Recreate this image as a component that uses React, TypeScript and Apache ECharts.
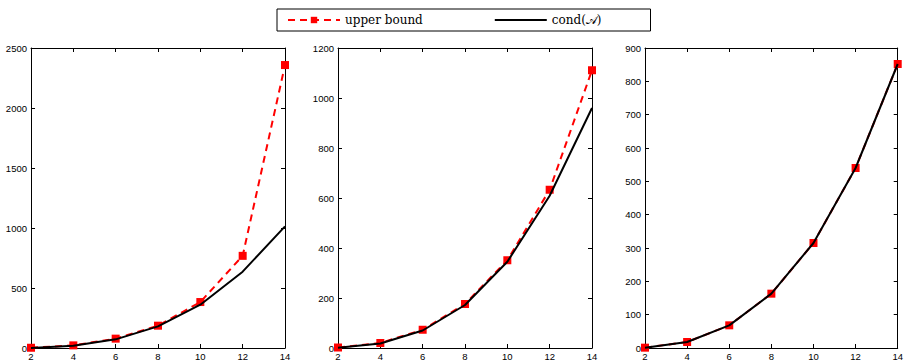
import React, { useEffect, useRef } from "react";
import * as echarts from "echarts";

const nValues = [2, 4, 6, 8, 10, 12, 14];

const upperBound1 = [2, 22, 78, 186, 383, 768, 2358];
const cond1 = [1, 19, 72, 180, 361, 636, 1014];

const upperBound2 = [2, 20, 73, 176, 351, 633, 1111];
const cond2 = [1, 18, 70, 172, 345, 609, 960];

const upperBound3 = [1, 18, 68, 163, 315, 540, 852];
const cond3 = [1, 18, 68, 163, 315, 540, 852];

const yMaxes = [2500, 1200, 900];
const yIntervals = [500, 200, 100];

const upperName = "upper bound";
const condName = "cond(𝒜)";

const panels = [
  { upper: upperBound1, cond: cond1 },
  { upper: upperBound2, cond: cond2 },
  { upper: upperBound3, cond: cond3 },
];

const gridLefts = [31, 338, 645];

export default function App() {
  const ref = useRef<HTMLDivElement>(null);
  useEffect(() => {
    if (!ref.current) return;
    const chart = echarts.init(ref.current, null, { renderer: "svg" });
    const labelFont = { color: "#000", fontSize: 9.5, fontFamily: "Liberation Sans, Arial, sans-serif" };
    const grids: any[] = [];
    const xAxes: any[] = [];
    const yAxes: any[] = [];
    const series: any[] = [];
    panels.forEach((p, i) => {
      grids.push({ left: gridLefts[i], top: 48, width: 254, height: 300 });
      const axisLine = { show: true, onZero: false, lineStyle: { color: "#000", width: 1 } };
      const axisTick = { show: true, inside: true, length: 4, lineStyle: { color: "#000", width: 1 } };
      xAxes.push({
        type: "value", gridIndex: i, min: 2, max: 14, interval: 2, position: "bottom",
        axisLine, axisTick, splitLine: { show: false },
        axisLabel: { ...labelFont, margin: 3, formatter: (v: number) => String(v) },
      });
      xAxes.push({
        type: "value", gridIndex: i, min: 2, max: 14, interval: 2, position: "top",
        axisLine, axisTick, splitLine: { show: false }, axisLabel: { show: false },
      });
      yAxes.push({
        type: "value", gridIndex: i, min: 0, max: yMaxes[i], interval: yIntervals[i], position: "left",
        axisLine, axisTick, splitLine: { show: false },
        axisLabel: { ...labelFont, margin: 4, formatter: (v: number) => String(v) },
      });
      yAxes.push({
        type: "value", gridIndex: i, min: 0, max: yMaxes[i], interval: yIntervals[i], position: "right",
        axisLine, axisTick, splitLine: { show: false }, axisLabel: { show: false },
      });
      series.push({
        name: upperName, type: "line", xAxisIndex: i * 2, yAxisIndex: i * 2,
        data: nValues.map((n, k) => [n, p.upper[k]]),
        symbol: "rect", symbolSize: 8, showSymbol: true,
        itemStyle: { color: "#ff0000" },
        lineStyle: { color: "#ff0000", width: 2, type: [7, 5] },
        z: 2,
      });
      series.push({
        name: condName, type: "line", xAxisIndex: i * 2, yAxisIndex: i * 2,
        data: nValues.map((n, k) => [n, p.cond[k]]),
        symbol: "none", showSymbol: false,
        itemStyle: { color: "#000" },
        lineStyle: { color: "#000", width: 2 },
        z: 3,
      });
    });
    chart.setOption({
      animation: false,
      backgroundColor: "#fff",
      legend: {
        data: [
          { name: upperName },
          { name: condName, itemStyle: { opacity: 0 } },
        ],
        left: 277,
        top: 9,
        itemWidth: 52,
        itemHeight: 8,
        itemGap: 71,
        padding: [5, 49, 5, 10],
        borderColor: "#000",
        borderWidth: 1,
        selectedMode: false,
        textStyle: { color: "#000", fontSize: 12, fontFamily: "DejaVu Serif, Liberation Serif, serif" },
      },
      grid: grids,
      xAxis: xAxes,
      yAxis: yAxes,
      series,
    });
    return () => chart.dispose();
  }, []);
  return (
    <div
      ref={ref}
      style={{ position: "fixed", left: 0, top: 0, width: 906, height: 363 }}
    />
  );
}
